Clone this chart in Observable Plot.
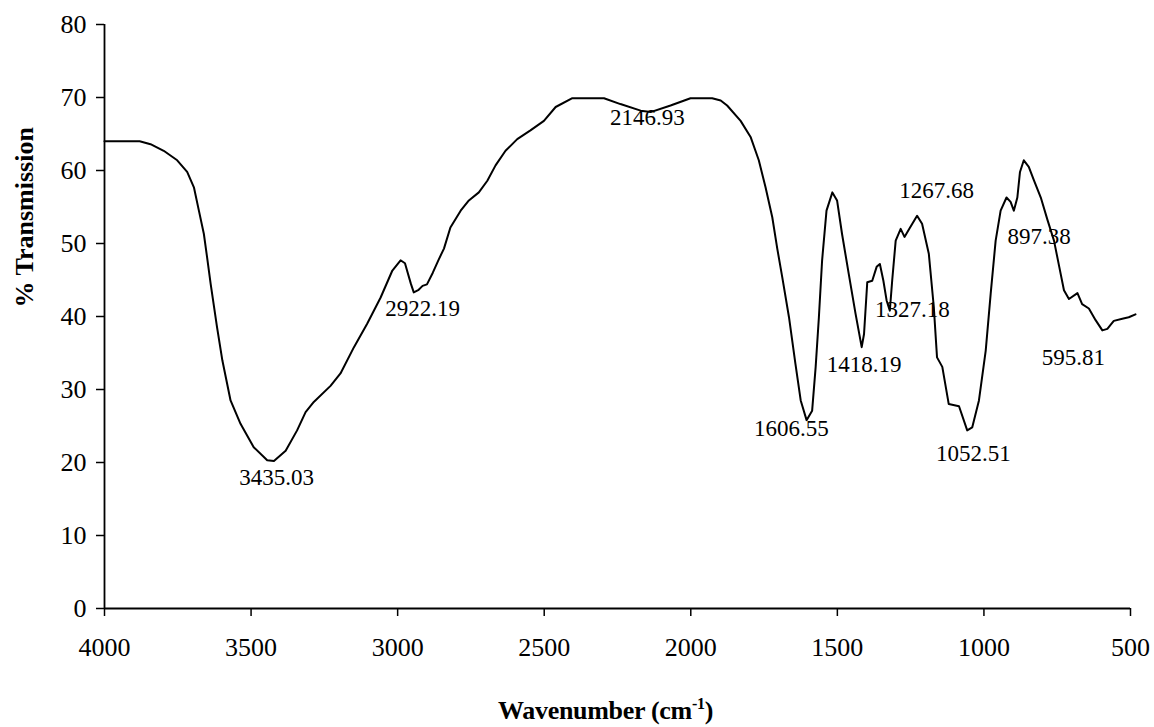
<!DOCTYPE html>
<html>
<head>
<meta charset="utf-8">
<script src="https://cdn.jsdelivr.net/npm/d3@7"></script>
<script src="https://cdn.jsdelivr.net/npm/@observablehq/plot@0.6"></script>
<style>
  body { margin: 0; background: #fff; font-family: "Liberation Serif", "Times New Roman", serif; }
  #chart { position: absolute; left: 0; top: 0; }
  #xlabel { position: absolute; left: 498px; top: 697px; font-size: 26px; line-height: 28px; font-weight: bold; white-space: nowrap; letter-spacing: -0.3px; }
  #xlabel sup { font-size: 16px; line-height: 0; vertical-align: 10px; }
</style>
</head>
<body>
<div id="chart"></div>
<div id="xlabel">Wavenumber (cm<sup>-1</sup>)</div>
<script>
// Spectrum (wavenumber in cm^-1, % transmission)
const wavenumber = [4000,3950,3900,3880,3843,3798,3752,3718,3695,3678,3661,3650,3638,3616,3598,3570,3536,3491,3445,3422,3382,3343,3314,3286,3229,3195,3149,3104,3058,3018,2990,2975,2955,2945,2930,2915,2900,2880,2860,2842,2820,2785,2757,2723,2694,2666,2632,2592,2547,2501,2461,2404,2296,2240,2171,2137,2069,2001,1927,1898,1876,1830,1796,1768,1745,1722,1705,1688,1665,1643,1625,1605,1586,1574,1563,1552,1537,1517,1501,1484,1461,1438,1417,1409,1398,1381,1366,1355,1343,1332,1321,1313,1301,1284,1271,1252,1228,1211,1188,1171,1160,1142,1120,1085,1057,1040,1017,994,977,960,943,923,909,898,886,877,864,847,829,806,783,761,743,727,710,681,665,642,619,596,579,557,528,506,483];
const transmission = [64,64,64,64,63.6,62.7,61.4,59.8,57.7,54.5,51.3,48.1,44.5,38.5,34,28.5,25.3,22.1,20.3,20.2,21.6,24.4,26.9,28.3,30.5,32.2,35.8,39,42.6,46.3,47.7,47.3,44.5,43.3,43.6,44.2,44.4,46,47.8,49.3,52.2,54.5,55.9,57,58.6,60.7,62.7,64.3,65.5,66.8,68.7,69.9,69.9,69.1,68.2,68,68.9,69.9,69.9,69.6,68.9,66.8,64.6,61.4,57.7,53.6,49.3,45.4,39.9,33.5,28.5,25.8,27.1,33.1,39.9,47.7,54.5,57,55.9,51.3,45.8,40.4,35.8,37.6,44.7,44.9,46.8,47.2,44.9,42.2,40.8,44.9,50.4,52,50.9,52.2,53.8,52.7,48.6,41.3,34.4,33.1,28,27.7,24.4,24.8,28.5,35.3,43.1,50.4,54.5,56.3,55.7,54.5,56.3,59.8,61.4,60.5,58.6,56.3,53.2,50.4,46.8,43.6,42.4,43.2,41.7,41.1,39.5,38.1,38.3,39.4,39.7,39.9,40.3];

// Peak annotations: label text and where each label sits (data coordinates)
const peakLabels = ["3435.03","2922.19","2146.93","1606.55","1418.19","1327.18","1267.68","1052.51","897.38","595.81"];
const labelWn = [3413,2915,2148,1657,1409,1244,1161,1036,812,695];
const labelT = [17.9,41.1,67.3,24.6,33.4,40.9,57.3,21.2,51.0,34.3];

const xTicks = [4000,3500,3000,2500,2000,1500,1000,500];
const yTicks = [0,10,20,30,40,50,60,70,80];
const yTitle = "% Transmission";

const spectrum = wavenumber.map((w, i) => ({w, t: transmission[i]}));
const labels = peakLabels.map((s, i) => ({s, w: labelWn[i], t: labelT[i]}));

const chart = Plot.plot({
  width: 1154,
  height: 680,
  marginLeft: 104,
  marginRight: 24,
  marginTop: 24,
  marginBottom: 72,
  style: { fontFamily: "'Liberation Serif','Times New Roman',serif", background: "#fff", color: "#000" },
  x: { domain: [4000, 500], label: null },
  y: { domain: [0, 80], label: null },
  marks: [
    Plot.axisX({ ticks: xTicks, tickFormat: d => String(d), tickSize: 8, tickPadding: 21, fontSize: 26, label: null, strokeWidth: 1.5 }),
    Plot.axisY({ ticks: yTicks, tickFormat: d => String(d), tickSize: 8, tickPadding: 10, fontSize: 26, label: null, strokeWidth: 1.5 }),
    Plot.ruleY([0], { strokeWidth: 1.8 }),
    Plot.ruleX([4000], { strokeWidth: 1.8 }),
    Plot.lineY(spectrum, { x: "w", y: "t", stroke: "#000", strokeWidth: 2 }),
    Plot.text(labels, { x: "w", y: "t", text: "s", fontSize: 23, fill: "#000" }),
    Plot.text([yTitle], { frameAnchor: "left", rotate: -90, dx: -80, dy: -9, fontSize: 26, fontWeight: "bold", fill: "#000" })
  ]
});
document.getElementById("chart").appendChild(chart);
</script>
</body>
</html>
